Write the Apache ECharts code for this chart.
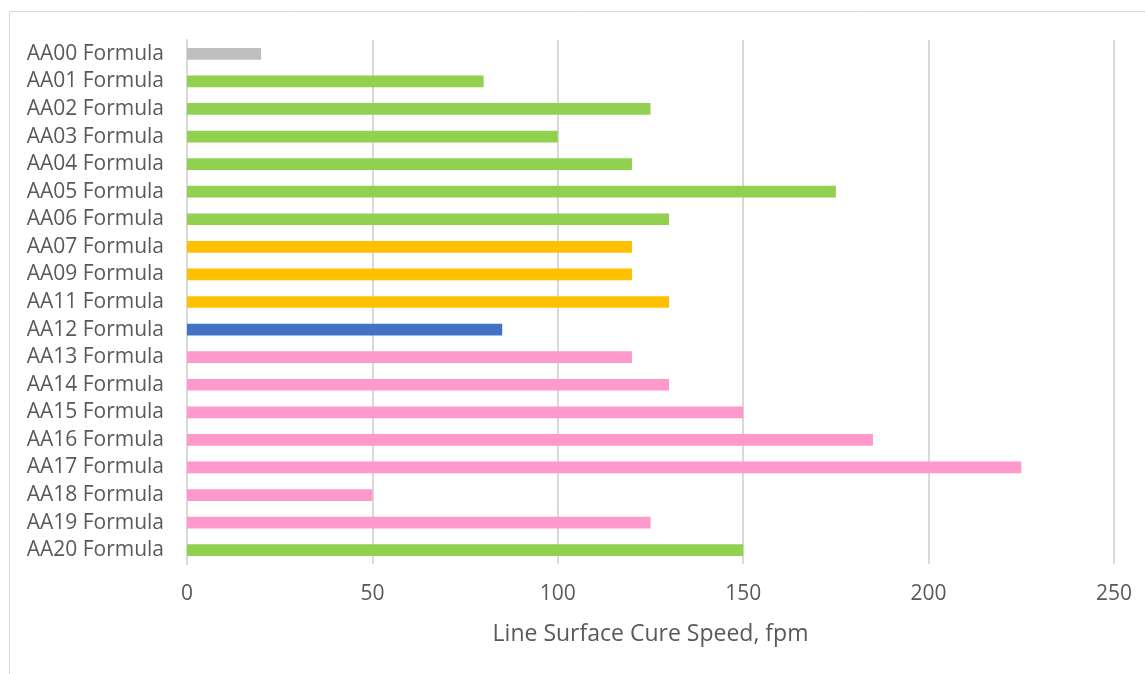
<!DOCTYPE html>
<html>
<head>
<meta charset="utf-8">
<style>
  html, body { margin: 0; padding: 0; background: #fff; }
  #chart { width: 1145px; height: 674px; }
</style>
<script src="https://cdn.jsdelivr.net/npm/echarts@6/dist/echarts.min.js"></script>
</head>
<body>
<div id="chart"></div>
<script>
// Formula names, top to bottom
const categories = [
  'AA00 Formula', 'AA01 Formula', 'AA02 Formula', 'AA03 Formula', 'AA04 Formula',
  'AA05 Formula', 'AA06 Formula', 'AA07 Formula', 'AA09 Formula', 'AA11 Formula',
  'AA12 Formula', 'AA13 Formula', 'AA14 Formula', 'AA15 Formula', 'AA16 Formula',
  'AA17 Formula', 'AA18 Formula', 'AA19 Formula', 'AA20 Formula'
];
// Line surface cure speed, fpm
const speeds = [20, 80, 125, 100, 120, 175, 130, 120, 120, 130, 85, 120, 130, 150, 185, 225, 50, 125, 150];
// Formula family of each bar
const families = ['base', 'A', 'A', 'A', 'A', 'A', 'A', 'B', 'B', 'B', 'C', 'D', 'D', 'D', 'D', 'D', 'D', 'D', 'A'];
const xTicks = [0, 50, 100, 150, 200, 250];

const familyColors = { base: '#BFBFBF', A: '#92D050', B: '#FFC000', C: '#4472C4', D: '#FF99CC' };
const FONT = 'Open Sans';
const TEXT = '#595959';

const chart = echarts.init(document.getElementById('chart'), null, { renderer: 'canvas' });
chart.setOption({
  backgroundColor: '#fff',
  animation: false,
  graphic: [{
    type: 'rect',
    shape: { x: 9.5, y: 11.5, width: 1200, height: 700 },
    style: { fill: 'none', stroke: '#D9D9D9', lineWidth: 1 },
    silent: true
  }],
  grid: { left: 187, right: 31, top: 40, bottom: 110, containLabel: false },
  xAxis: {
    type: 'value',
    min: xTicks[0],
    max: xTicks[xTicks.length - 1],
    interval: 50,
    name: 'Line Surface Cure Speed, fpm',
    nameLocation: 'middle',
    nameGap: 59,
    nameTextStyle: { fontFamily: FONT, fontSize: 23, color: TEXT, verticalAlign: 'top' },
    axisLine: { show: false },
    axisTick: { show: false },
    axisLabel: { fontFamily: FONT, fontSize: 21, color: TEXT, margin: 20 },
    splitLine: { show: true, lineStyle: { color: '#D9D9D9', width: 2 } }
  },
  yAxis: {
    type: 'category',
    data: categories,
    inverse: true,
    axisLine: { show: true, lineStyle: { color: '#D9D9D9', width: 2 } },
    axisTick: { show: false },
    axisLabel: { fontFamily: FONT, fontSize: 21, color: TEXT, margin: 23 }
  },
  series: [{
    type: 'bar',
    barWidth: '42.5%',
    data: speeds.map((v, i) => ({ value: v, itemStyle: { color: familyColors[families[i]] } }))
  }]
});
</script>
</body>
</html>
